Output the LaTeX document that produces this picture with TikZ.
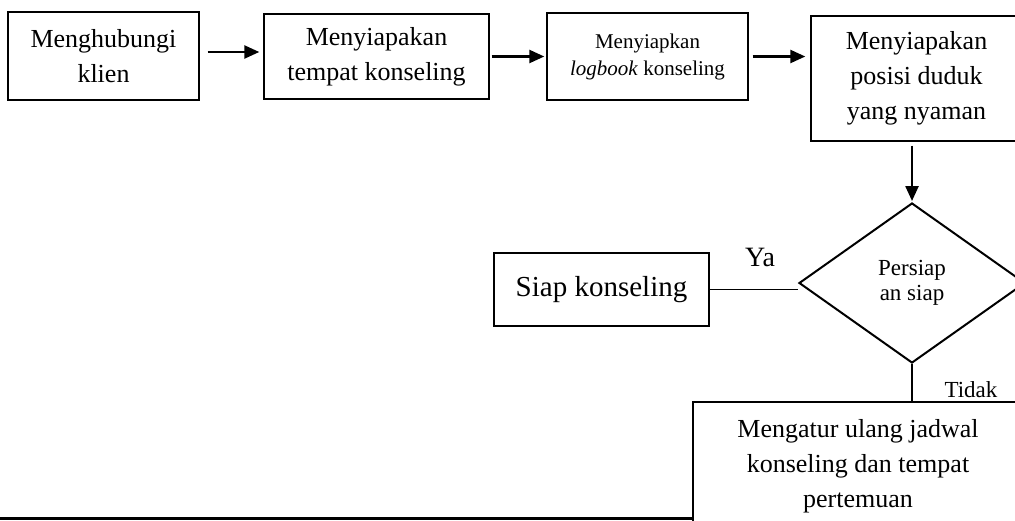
\documentclass[tikz,border=0pt]{standalone}
\usepackage{fontspec}
\setmainfont{Liberation Serif}
\usetikzlibrary{shapes.geometric,arrows.meta}
\begin{document}
\begin{tikzpicture}[x=0.5pt,y=-0.5pt,
  box/.style={draw,line width=0.7pt,rectangle,inner sep=0pt,align=center,
    font=\fontsize{13}{17.5}\selectfont},
  arr/.style={line width=1.2pt,-{Triangle[length=7.5pt,width=6.5pt]}},
  thin/.style={line width=0.6pt}]
\useasboundingbox (0,0) rectangle (1015,520);
\clip (0,0) rectangle (1015,520);
\node[box,minimum width=95.5pt,minimum height=44pt] (b1) at (103.5,56) {Menghubungi\\klien};
\node[box,minimum width=112.5pt,minimum height=42.5pt] (b2) at (376.5,56.5) {Menyiapakan\\tempat konseling};
\node[box,minimum width=100.5pt,minimum height=43.5pt,font=\fontsize{10.5}{13.5}\selectfont] (b3) at (647.5,56.5) {Menyiapkan\\\textit{logbook} konseling};
\node[box,minimum width=105.5pt,minimum height=62.5pt] (b4) at (916.5,78.5) {Menyiapakan\\posisi duduk\\yang nyaman};
\node[draw,diamond,line width=1pt,inner sep=0pt,minimum width=113pt,minimum height=80pt,align=center,
  font=\fontsize{11.5}{12.5}\selectfont] (dia) at (912,283) {Persiap\\an siap};
\node[box,minimum width=107.5pt,minimum height=36.5pt,font=\fontsize{14.5}{17}\selectfont] (siap) at (601.5,289.5) {Siap konseling};
\node[box,minimum width=165pt,minimum height=64pt] (bot) at (858,466) {Mengatur ulang jadwal\\konseling dan tempat\\pertemuan};
\node[font=\fontsize{14}{16}\selectfont] (ya) at (760,257) {Ya};
\node[font=\fontsize{11.5}{13}\selectfont] (tidak) at (971,390) {Tidak};
\draw[arr,shorten <=4pt,shorten >=2pt] ([yshift=2pt]b1.east) -- ([yshift=2pt]b1.east -| b2.west);
\draw[arr,shorten <=1pt,shorten >=1pt] (b2.east) -- (b2.east -| b3.west);
\draw[arr,shorten <=2pt,shorten >=2.5pt] (b3.east) -- (b3.east -| b4.west);
\draw[arr,shorten <=2pt,shorten >=0.5pt] (b4.south -| dia.north) -- (dia.north);
\draw[thin] (siap.east) -- (siap.east -| dia.west);
\draw[thin] (dia.south) -- (dia.south |- bot.north);
\draw[line width=1.5pt] (0,518) -- (693,518);
\end{tikzpicture}
\end{document}
